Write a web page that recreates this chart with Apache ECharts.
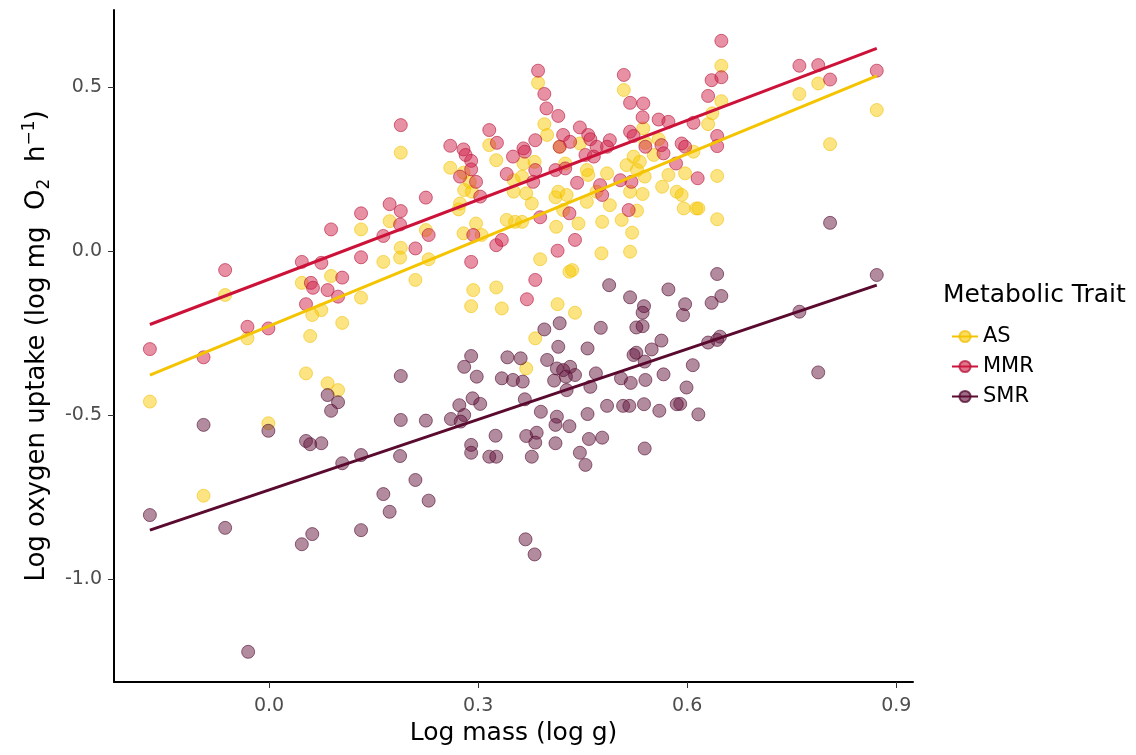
<!DOCTYPE html>
<html>
<head>
<meta charset="utf-8">
<script src="https://cdn.jsdelivr.net/npm/echarts@6/dist/echarts.min.js"></script>
<style>
  html, body { margin: 0; padding: 0; background: #fff; }
  #chart { width: 1136px; height: 755px; }
</style>
</head>
<body>
<div id="chart"></div>
<script>
// [log mass, log oxygen uptake]
const asPoints = [
  [0.189,0.300],[0.173,0.091],[0.132,0.066],[0.189,0.010],[0.188,-0.020],[0.164,-0.033],[0.089,-0.076],
  [0.047,-0.097],[-0.063,-0.134],[0.132,-0.142],[0.075,-0.180],[0.062,-0.195],[0.105,-0.219],[0.059,-0.259],
  [-0.031,-0.266],[-0.171,-0.459],[0.053,-0.373],[0.084,-0.403],[0.099,-0.424],[-0.001,-0.525],[-0.094,-0.746],
  [0.386,0.513],[0.395,0.387],[0.399,0.354],[0.509,0.491],[0.537,0.374],[0.316,0.323],[0.326,0.277],
  [0.260,0.254],[0.279,0.239],[0.288,0.211],[0.280,0.186],[0.291,0.181],[0.274,0.145],[0.272,0.127],
  [0.225,0.064],[0.229,-0.025],[0.210,-0.088],[0.279,0.054],[0.305,0.049],[0.297,0.084],[0.293,-0.119],
  [0.290,-0.168],[0.326,-0.111],[0.334,-0.175],[0.365,0.267],[0.381,0.272],[0.351,0.216],[0.363,0.227],
  [0.351,0.181],[0.369,0.176],[0.377,0.145],[0.341,0.095],[0.353,0.089],[0.363,0.089],[0.389,-0.025],
  [0.414,-0.162],[0.439,-0.188],[0.431,-0.063],[0.435,-0.058],[0.412,0.074],[0.444,0.084],[0.422,0.125],
  [0.411,0.164],[0.415,0.181],[0.427,0.171],[0.425,0.267],[0.417,0.318],[0.446,0.328],[0.456,0.247],
  [0.458,0.232],[0.485,0.237],[0.470,0.181],[0.456,0.150],[0.489,0.140],[0.478,0.089],[0.506,0.095],
  [0.477,-0.007],[0.518,-0.002],[0.521,0.056],[0.528,0.123],[0.536,0.174],[0.518,0.181],[0.513,0.262],
  [0.523,0.288],[0.532,0.272],[0.539,0.227],[0.528,0.247],[0.540,0.330],[0.552,0.293],[0.559,0.341],
  [0.573,0.232],[0.564,0.196],[0.585,0.181],[0.592,0.171],[0.597,0.237],[0.609,0.303],[0.595,0.130],
  [0.613,0.130],[0.649,0.565],[0.649,0.457],[0.636,0.420],[0.630,0.387],[0.643,0.229],[0.616,0.130],
  [0.643,0.097],[0.761,0.479],[0.788,0.511],[0.805,0.326],[0.872,0.430],[0.382,-0.266],[0.369,-0.358]
];

const mmrPoints = [
  [0.189,0.384],[0.173,0.143],[0.189,0.122],[0.132,0.115],[0.089,0.066],[0.188,0.081],[0.164,0.046],
  [0.132,-0.019],[0.047,-0.033],[0.075,-0.036],[-0.063,-0.058],[0.105,-0.081],[0.060,-0.097],[0.063,-0.112],
  [0.084,-0.119],[0.099,-0.139],[0.053,-0.162],[-0.031,-0.231],[-0.001,-0.236],[-0.171,-0.299],[-0.094,-0.324],
  [0.386,0.550],[0.395,0.479],[0.398,0.435],[0.415,0.412],[0.509,0.537],[0.518,0.452],[0.537,0.450],
  [0.536,0.408],[0.559,0.401],[0.573,0.394],[0.609,0.391],[0.316,0.369],[0.327,0.330],[0.260,0.321],
  [0.279,0.310],[0.282,0.293],[0.290,0.275],[0.290,0.249],[0.274,0.227],[0.297,0.211],[0.303,0.166],
  [0.225,0.163],[0.229,0.049],[0.210,0.008],[0.293,0.049],[0.326,0.018],[0.334,0.034],[0.290,-0.033],
  [0.350,0.288],[0.365,0.313],[0.367,0.303],[0.382,0.338],[0.341,0.235],[0.379,0.211],[0.382,0.247],
  [0.389,0.103],[0.382,-0.088],[0.370,-0.147],[0.414,0.001],[0.439,0.034],[0.431,0.115],[0.411,0.247],
  [0.425,0.252],[0.417,0.318],[0.422,0.354],[0.432,0.333],[0.446,0.377],[0.458,0.354],[0.461,0.341],
  [0.442,0.208],[0.454,0.293],[0.466,0.288],[0.470,0.318],[0.489,0.338],[0.485,0.318],[0.475,0.201],
  [0.478,0.171],[0.516,0.125],[0.520,0.211],[0.504,0.216],[0.518,0.364],[0.523,0.351],[0.540,0.318],
  [0.563,0.323],[0.566,0.298],[0.584,0.267],[0.592,0.328],[0.597,0.318],[0.615,0.222],[0.649,0.641],
  [0.635,0.521],[0.649,0.530],[0.630,0.473],[0.643,0.351],[0.643,0.320],[0.761,0.565],[0.788,0.567],
  [0.805,0.523],[0.872,0.550]
];

const smrPoints = [
  [0.084,-0.439],[0.099,-0.461],[0.089,-0.487],[0.189,-0.381],[0.189,-0.515],[-0.094,-0.530],[-0.001,-0.548],
  [0.053,-0.579],[0.059,-0.589],[0.075,-0.586],[0.105,-0.647],[0.132,-0.622],[0.188,-0.625],[-0.171,-0.805],
  [-0.063,-0.844],[0.164,-0.741],[0.173,-0.795],[0.132,-0.851],[0.062,-0.863],[0.047,-0.894],[-0.030,-1.222],
  [0.805,0.086],[0.643,-0.070],[0.872,-0.073],[0.649,-0.137],[0.635,-0.158],[0.597,-0.162],[0.594,-0.195],
  [0.761,-0.185],[0.630,-0.279],[0.647,-0.261],[0.643,-0.271],[0.608,-0.348],[0.788,-0.370],[0.599,-0.416],
  [0.590,-0.466],[0.616,-0.498],[0.488,-0.104],[0.518,-0.141],[0.538,-0.168],[0.536,-0.188],[0.536,-0.229],
  [0.527,-0.233],[0.573,-0.117],[0.476,-0.234],[0.395,-0.239],[0.417,-0.220],[0.415,-0.292],[0.457,-0.297],
  [0.563,-0.273],[0.549,-0.300],[0.523,-0.317],[0.527,-0.310],[0.539,-0.337],[0.290,-0.320],[0.280,-0.353],
  [0.298,-0.383],[0.342,-0.324],[0.361,-0.327],[0.334,-0.388],[0.350,-0.393],[0.364,-0.398],[0.399,-0.332],
  [0.413,-0.358],[0.422,-0.363],[0.432,-0.353],[0.439,-0.378],[0.426,-0.383],[0.409,-0.395],[0.427,-0.424],
  [0.461,-0.414],[0.469,-0.373],[0.505,-0.388],[0.519,-0.402],[0.540,-0.393],[0.566,-0.376],[0.367,-0.452],
  [0.225,-0.517],[0.261,-0.512],[0.273,-0.470],[0.280,-0.500],[0.275,-0.520],[0.292,-0.449],[0.303,-0.466],
  [0.390,-0.490],[0.413,-0.505],[0.411,-0.530],[0.431,-0.534],[0.457,-0.497],[0.485,-0.472],[0.508,-0.472],
  [0.517,-0.472],[0.538,-0.467],[0.560,-0.487],[0.585,-0.467],[0.290,-0.591],[0.290,-0.615],[0.325,-0.563],
  [0.316,-0.627],[0.326,-0.627],[0.369,-0.564],[0.384,-0.554],[0.382,-0.584],[0.377,-0.627],[0.411,-0.586],
  [0.459,-0.573],[0.478,-0.569],[0.446,-0.615],[0.454,-0.652],[0.539,-0.602],[0.210,-0.698],[0.229,-0.761],
  [0.368,-0.879],[0.381,-0.925]
];

// fitted lines, end points
const fitX = [-0.171, 0.872];
const asFit = [-0.378, 0.534];
const mmrFit = [-0.224, 0.618];
const smrFit = [-0.851, -0.104];

const xTicks = [0.0, 0.3, 0.6, 0.9];
const yTicks = [-1.0, -0.5, 0.0, 0.5];

const traits = [
  { name: 'AS', points: asPoints, fit: asFit, line: '#F5C400', fill: 'rgba(247,200,0,0.62)', border: 'rgba(240,190,0,0.7)' },
  { name: 'MMR', points: mmrPoints, fit: mmrFit, line: '#CC1238', fill: 'rgba(208,30,70,0.62)', border: 'rgba(180,20,55,0.75)' },
  { name: 'SMR', points: smrPoints, fit: smrFit, line: '#5A0A2E', fill: 'rgba(100,20,60,0.62)', border: 'rgba(80,10,45,0.75)' }
];

const font = 'DejaVu Sans, sans-serif';
const chart = echarts.init(document.getElementById('chart'));

const series = [];
traits.forEach(t => {
  series.push({
    name: t.name,
    type: 'line',
    z: 5,
    data: fitX.map((x, i) => [x, t.fit[i]]),
    symbol: 'circle',
    symbolSize: 12,
    showSymbol: false,
    lineStyle: { color: t.line, width: 3 },
    itemStyle: { color: t.fill, borderColor: t.border, borderWidth: 1 },
    silent: true
  });
});
traits.forEach(t => {
  series.push({
    name: t.name,
    type: 'scatter',
    z: 2,
    data: t.points,
    symbolSize: 13,
    itemStyle: { color: t.fill, borderColor: t.border, borderWidth: 1 }
  });
});

chart.setOption({
  animation: false,
  textStyle: { fontFamily: font },
  grid: { left: 114, right: 223, top: 10, bottom: 73 },
  xAxis: {
    type: 'value',
    min: -0.2225,
    max: 0.924,
    name: 'Log mass (log g)',
    nameLocation: 'middle',
    nameGap: 38,
    nameTextStyle: { fontSize: 25, color: '#000', fontFamily: font },
    axisLine: { onZero: false, lineStyle: { color: '#000', width: 2 } },
    axisTick: { customValues: xTicks, length: 6, lineStyle: { color: '#333' } },
    axisLabel: {
      customValues: xTicks,
      formatter: v => v.toFixed(1),
      fontSize: 19,
      color: '#4d4d4d',
      margin: 15
    },
    splitLine: { show: false }
  },
  yAxis: {
    type: 'value',
    min: -1.314,
    max: 0.735,
    name: '{a|Log oxygen uptake (log mg  O}{sub|2}{a|  h}{sup|−1}{a|)}',
    nameLocation: 'middle',
    nameGap: 61,
    nameRotate: 90,
    nameTextStyle: {
      rich: {
        a: { fontSize: 26, color: '#000', fontFamily: font, lineHeight: 32 },
        sub: { fontSize: 17, color: '#000', fontFamily: font, verticalAlign: 'bottom', lineHeight: 32 },
        sup: { fontSize: 17, color: '#000', fontFamily: font, verticalAlign: 'top', lineHeight: 32 }
      }
    },
    axisLine: { show: true, onZero: false, lineStyle: { color: '#000', width: 2 } },
    axisTick: { show: true, customValues: yTicks, length: 6, lineStyle: { color: '#333' } },
    axisLabel: {
      customValues: yTicks,
      formatter: v => v.toFixed(1),
      fontSize: 19,
      color: '#4d4d4d',
      margin: 12
    },
    splitLine: { show: false }
  },
  legend: {
    data: ['AS', 'MMR', 'SMR'],
    orient: 'vertical',
    left: 946,
    top: 321,
    itemWidth: 26,
    itemHeight: 14,
    itemGap: 9,
    textStyle: { fontSize: 21, color: '#000', fontFamily: font }
  },
  graphic: [{
    type: 'text',
    left: 943,
    top: 283,
    style: { text: 'Metabolic Trait', fontSize: 25, fill: '#000', fontFamily: font }
  }],
  series: series
});
</script>
</body>
</html>
